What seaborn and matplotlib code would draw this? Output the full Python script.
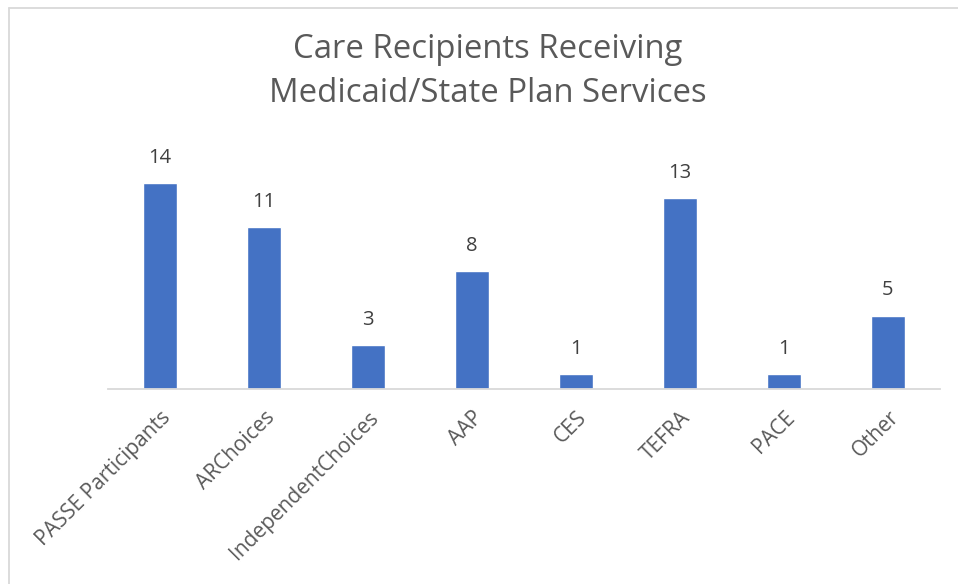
import matplotlib
matplotlib.use("Agg")
import matplotlib.pyplot as plt
import seaborn as sns
import pandas as pd
from matplotlib.lines import Line2D

categories = ["PASSE Participants", "ARChoices", "IndependentChoices", "AAP",
              "CES", "TEFRA", "PACE", "Other"]
counts = [14, 11, 3, 8, 1, 13, 1, 5]
title = "Care Recipients Receiving\nMedicaid/State Plan Services"


def main():
    sns.set_style("white")
    plt.rcParams["font.family"] = ["Open Sans", "DejaVu Sans"]

    df = pd.DataFrame({"category": categories, "count": counts})

    fig = plt.figure(figsize=(9.58, 5.84), dpi=100)
    ax = fig.add_axes([0.1127, 0.334, 0.8685, 0.4023])
    sns.barplot(data=df, x="category", y="count", color="#4472C4",
                width=0.32, saturation=1, ax=ax)

    ax.set_ylim(0, 16)
    ax.set_xlim(-0.5, len(categories) - 0.5)
    ax.set_xlabel("")
    ax.set_ylabel("")
    ax.set_yticks([])
    for side in ["top", "right", "left"]:
        ax.spines[side].set_visible(False)
    ax.spines["bottom"].set_color("#D9D9D9")
    ax.spines["bottom"].set_linewidth(1.3)
    ax.tick_params(axis="x", length=0, pad=13, labelsize=15, labelcolor="#595959")
    plt.setp(ax.get_xticklabels(), rotation=45, ha="right", rotation_mode="anchor")

    for i, v in enumerate(counts):
        ax.annotate(str(v), (i, v), xytext=(0, 11), textcoords="offset points",
                    ha="center", va="bottom", fontsize=14.5, color="#404040")

    fig.text(0.509, 0.877, title, ha="center", va="center", fontsize=23.7,
             color="#595959", linespacing=1.45)

    # chart frame (only top and left edges are inside the picture)
    fig.add_artist(Line2D([9 / 958, 1], [1 - 8 / 584] * 2, color="#D9D9D9", lw=1.3))
    fig.add_artist(Line2D([9 / 958] * 2, [0, 1 - 8 / 584], color="#D9D9D9", lw=1.3))

    fig.savefig("out.png", dpi=100)
    plt.close(fig)


if __name__ == "__main__":
    main()
